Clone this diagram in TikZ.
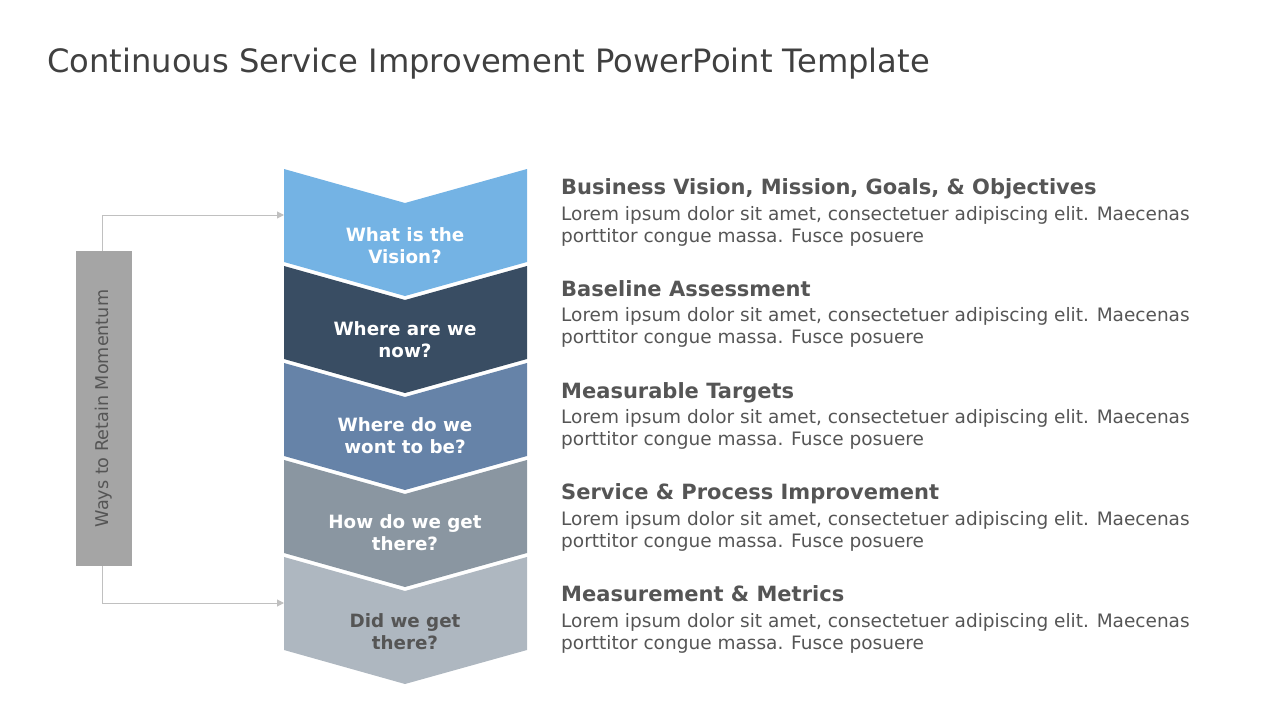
\documentclass[tikz,border=0pt]{standalone}
\usepackage{fontspec}
\setmainfont{DejaVu Sans}
\usetikzlibrary{arrows.meta}
\definecolor{cA}{HTML}{74B3E4}
\definecolor{cB}{HTML}{394D63}
\definecolor{cC}{HTML}{6683A8}
\definecolor{cD}{HTML}{8A96A1}
\definecolor{cE}{HTML}{AEB7C0}
\definecolor{txt}{HTML}{555555}
\definecolor{ttl}{HTML}{404040}
\definecolor{barc}{HTML}{A5A5A5}
\definecolor{linec}{HTML}{C0C0C0}
\tikzset{
  chevlabel/.style={font=\fontsize{18.3}{22}\selectfont\bfseries, text=white, align=center},
  headtext/.style={anchor=base west, font=\fontsize{21}{24}\selectfont\bfseries, text=txt, inner sep=0pt},
  bodytext/.style={anchor=base west, font=\fontsize{18.5}{22}\selectfont, text=txt, inner sep=0pt},
  conn/.style={draw=linec, line width=1pt, -{Triangle[length=7pt,width=7pt]}},
}
\begin{document}
\begin{tikzpicture}[x=1pt,y=-1pt]
\useasboundingbox (0,0) rectangle (1280,720);
\node[anchor=base west, font=\fontsize{32.2}{36}\selectfont, text=ttl, inner sep=0pt] (title) at (47,72) {Continuous Service Improvement PowerPoint Template};

% chevrons
\foreach \i/\col in {0/cA,1/cB,2/cC,3/cD,4/cE}{
  \pgfmathsetmacro{\t}{169+97*\i}
  \fill[\col] (284,\t) -- (405,\t+34) -- (527,\t) -- (527,\t+93) -- (405,\t+127) -- (284,\t+93) -- cycle;
}
\node[chevlabel] (c1) at (405,246) {What is the\\Vision?};
\node[chevlabel] (c2) at (405,340) {Where are we\\now?};
\node[chevlabel] (c3) at (405,436) {Where do we\\wont to be?};
\node[chevlabel] (c4) at (405,533) {How do we get\\there?};
\node[chevlabel, text=txt] (c5) at (405,632) {Did we get\\there?};

\coordinate (in1) at (284,215);
\coordinate (in5) at (284,603);

% left bar
\fill[barc] (76,251) rectangle (132,566);
\node[rotate=90, font=\fontsize{17.6}{20}\selectfont, text=txt] (bar) at (104,408.5) {Ways to Retain Momentum};
\coordinate (bartop) at (102,251);
\coordinate (barbot) at (102,566);
\draw[conn] (bartop) |- (in1);
\draw[conn] (barbot) |- (in5);

% right texts
\foreach \i/\h in {0/{Business Vision, Mission, Goals, \& Objectives},1/{Baseline Assessment},2/{Measurable Targets},3/{Service \& Process Improvement},4/{Measurement \& Metrics}}{
  \pgfmathsetmacro{\y}{194.5+101.8*\i}
  \node[headtext] (h\i) at (561,\y) {\h};
  \node[bodytext] (ba\i) at (561,\y+25.5) {Lorem ipsum dolor sit amet, consectetuer adipiscing elit. Maecenas};
  \node[bodytext] (bb\i) at (561,\y+47.5) {porttitor congue massa. Fusce posuere};
}
\end{tikzpicture}
\end{document}
